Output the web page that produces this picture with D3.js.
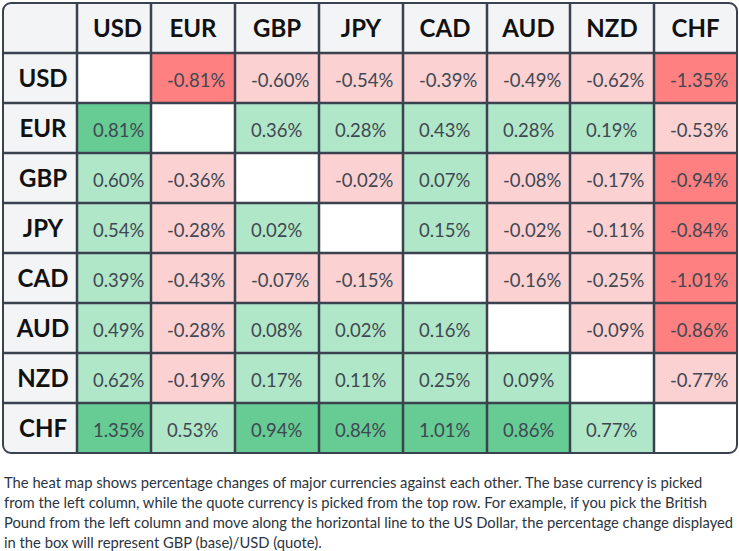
<!DOCTYPE html>
<html>
<head>
<meta charset="utf-8">
<title>Currency heat map</title>
<script src="https://d3js.org/d3.v7.min.js"></script>
<style>
  body { margin: 0; background: #fff; font-family: Lato, sans-serif; }
  svg { display: block; }
</style>
</head>
<body>
<svg id="chart" width="739" height="551"></svg>
<script>
  /* data: base currency = row, quote currency = column */
  var currencies = ["USD", "EUR", "GBP", "JPY", "CAD", "AUD", "NZD", "CHF"];
  var rowUSD = [null, -0.81, -0.60, -0.54, -0.39, -0.49, -0.62, -1.35];
  var rowEUR = [0.81, null, 0.36, 0.28, 0.43, 0.28, 0.19, -0.53];
  var rowGBP = [0.60, -0.36, null, -0.02, 0.07, -0.08, -0.17, -0.94];
  var rowJPY = [0.54, -0.28, 0.02, null, 0.15, -0.02, -0.11, -0.84];
  var rowCAD = [0.39, -0.43, -0.07, -0.15, null, -0.16, -0.25, -1.01];
  var rowAUD = [0.49, -0.28, 0.08, 0.02, 0.16, null, -0.09, -0.86];
  var rowNZD = [0.62, -0.19, 0.17, 0.11, 0.25, 0.09, null, -0.77];
  var rowCHF = [1.35, 0.53, 0.94, 0.84, 1.01, 0.86, 0.77, null];
  var matrix = [rowUSD, rowEUR, rowGBP, rowJPY, rowCAD, rowAUD, rowNZD, rowCHF];

  var caption = [
    "The heat map shows percentage changes of major currencies against each other. The base currency is picked",
    "from the left column, while the quote currency is picked from the top row. For example, if you pick the British",
    "Pound from the left column and move along the horizontal line to the US Dollar, the percentage change displayed",
    "in the box will represent GBP (base)/USD (quote)."
  ];

  /* layout */
  var x0 = 3, y0 = 3, rowH = 50;
  var colWidths = [74, 74, 84, 84, 84, 84, 83, 84, 83]; // label column + 8 currencies
  var colKeys = ["label"].concat(currencies);
  var colStart = d3.scaleOrdinal().domain(colKeys)
      .range(colKeys.map(function (k, i) { return x0 + d3.sum(colWidths.slice(0, i)); }));
  var colW = d3.scaleOrdinal().domain(colKeys).range(colWidths);
  var tableW = d3.sum(colWidths);
  var y = d3.scaleBand().domain(["header"].concat(currencies))
      .range([y0, y0 + rowH * (currencies.length + 1)]);
  var tableH = y.range()[1] - y0;

  var strongCut = 0.8;
  function fill(v) {
    if (v === null) return "#ffffff";
    if (v >= 0) return v >= strongCut ? "#66cc94" : "#b1e7c9";
    return -v >= strongCut ? "#ff8080" : "#fbd1d1";
  }
  /* plain hyphen for negatives, as in the original */
  var fmt = d3.formatLocale({ decimal: ".", thousands: ",", grouping: [3],
                              currency: ["$", ""], minus: "-" }).format(".2f");

  var svg = d3.select("#chart");
  svg.append("defs").append("clipPath").attr("id", "tbl")
    .append("rect").attr("x", x0).attr("y", y0)
    .attr("width", tableW).attr("height", tableH).attr("rx", 8);

  var g = svg.append("g").attr("clip-path", "url(#tbl)");

  /* header background */
  g.append("rect").attr("x", x0).attr("y", y0)
    .attr("width", tableW).attr("height", tableH).attr("fill", "#f3f4f6");

  /* cells */
  var cells = [];
  matrix.forEach(function (row, i) {
    row.forEach(function (v, j) {
      cells.push({ base: currencies[i], quote: currencies[j], value: v });
    });
  });

  g.selectAll("rect.cell").data(cells).enter().append("rect")
    .attr("class", "cell")
    .attr("x", function (d) { return colStart(d.quote); })
    .attr("y", function (d) { return y(d.base); })
    .attr("width", function (d) { return colW(d.quote); })
    .attr("height", y.bandwidth())
    .attr("fill", function (d) { return fill(d.value); });

  /* grid lines */
  var lineColor = "#3a4250";
  g.selectAll("line.v").data(currencies).enter().append("line")
    .attr("x1", function (d) { return colStart(d); })
    .attr("x2", function (d) { return colStart(d); })
    .attr("y1", y0).attr("y2", y0 + tableH)
    .attr("stroke", lineColor).attr("stroke-width", 2.5);
  g.selectAll("line.h").data(currencies).enter().append("line")
    .attr("y1", function (d) { return y(d); })
    .attr("y2", function (d) { return y(d); })
    .attr("x1", x0).attr("x2", x0 + tableW)
    .attr("stroke", lineColor).attr("stroke-width", 2.5);

  svg.append("rect").attr("x", x0).attr("y", y0)
    .attr("width", tableW).attr("height", tableH).attr("rx", 8)
    .attr("fill", "none").attr("stroke", lineColor).attr("stroke-width", 2);

  /* value labels */
  svg.selectAll("text.val").data(cells.filter(function (d) { return d.value !== null; }))
    .enter().append("text")
    .attr("class", "val")
    .attr("x", function (d) { return colStart(d.quote) + 16; })
    .attr("y", function (d) { return y(d.base) + y.bandwidth() / 2 + 8.5; })
    .attr("fill", "#3f4752")
    .style("font-family", "Lato, sans-serif")
    .style("font-size", "18.5px")
    .text(function (d) { return fmt(d.value) + "%"; });

  /* column headers */
  svg.selectAll("text.colh").data(currencies).enter().append("text")
    .attr("x", function (d) { return colStart(d) + colW(d) / 2 + (colW(d) < 80 ? 3.5 : 0); })
    .attr("y", y("header") + y.bandwidth() / 2 + 9)
    .attr("text-anchor", "middle")
    .attr("fill", "#111111")
    .style("font-family", "Lato, sans-serif")
    .style("font-weight", "bold")
    .style("font-size", "24px")
    .text(function (d) { return d; });

  /* row headers */
  svg.selectAll("text.rowh").data(currencies).enter().append("text")
    .attr("x", colStart("label") + colW("label") / 2 + 3)
    .attr("y", function (d) { return y(d) + y.bandwidth() / 2 + 9; })
    .attr("text-anchor", "middle")
    .attr("fill", "#111111")
    .style("font-family", "Lato, sans-serif")
    .style("font-weight", "bold")
    .style("font-size", "24px")
    .text(function (d) { return d; });

  /* caption */
  svg.selectAll("text.cap").data(caption).enter().append("text")
    .attr("x", x0 + 1)
    .attr("y", function (d, i) { return 488 + i * 20; })
    .attr("fill", "#2b3441")
    .style("font-family", "Lato, sans-serif")
    .style("font-size", "14.75px")
    .text(function (d) { return d; });
</script>
</body>
</html>
